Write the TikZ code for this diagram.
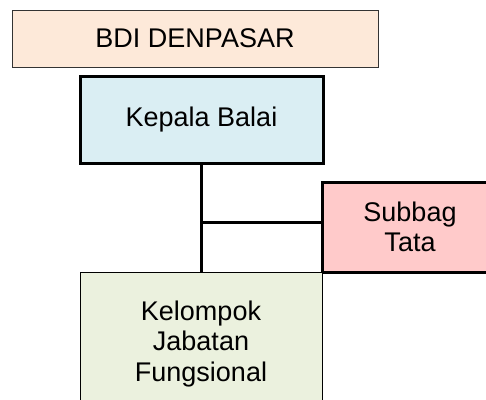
\documentclass[tikz,border=0pt]{standalone}
\usepackage{fontspec}
\setmainfont{Liberation Sans}
\usetikzlibrary{calc}
\definecolor{bdifill}{HTML}{FDE9D9}
\definecolor{kepalafill}{HTML}{DAEEF3}
\definecolor{subbagfill}{HTML}{FFCACA}
\definecolor{jabatanfill}{HTML}{EBF1DE}
\tikzset{
	unitbox/.style={draw=black, line width=3pt, inner sep=0pt, align=center,
		font=\fontsize{27}{30.5}\selectfont},
	thinbox/.style={unitbox, line width=1pt},
	link/.style={line width=3pt}
}

\begin{document}
\begin{tikzpicture}[x=1pt,y=-1pt]
		%%%%% START %%%%%
		\useasboundingbox (0, 0) rectangle (486, 399);
		\clip (0, 0) rectangle (486, 399);
		
		\node[thinbox, draw=black!80, fill=bdifill, minimum width=366pt, minimum height=57pt] (bdi) at (195, 38.5) {BDI DENPASAR};
		\node[unitbox, fill=kepalafill, minimum width=243pt, minimum height=87pt] (kepala) at (201.5, 119.5) {Kepala Balai};
		\node[unitbox, fill=subbagfill, minimum width=176pt, minimum height=90pt] (subbag) at (410, 227) {Subbag\\Tata};
		
		\draw[link] (kepala.south) -- (kepala.south |- 0, 272);
		\coordinate (branch) at (kepala.south |- 0, 222);
		\draw[link] (branch) -- (branch -| subbag.west);
		
		\node[thinbox, fill=jabatanfill, minimum width=242pt, minimum height=144pt] (jabatan) at (201, 344) {Kelompok\\Jabatan\\Fungsional};
		
		%%%%% END %%%%%
\end{tikzpicture}
\end{document}
